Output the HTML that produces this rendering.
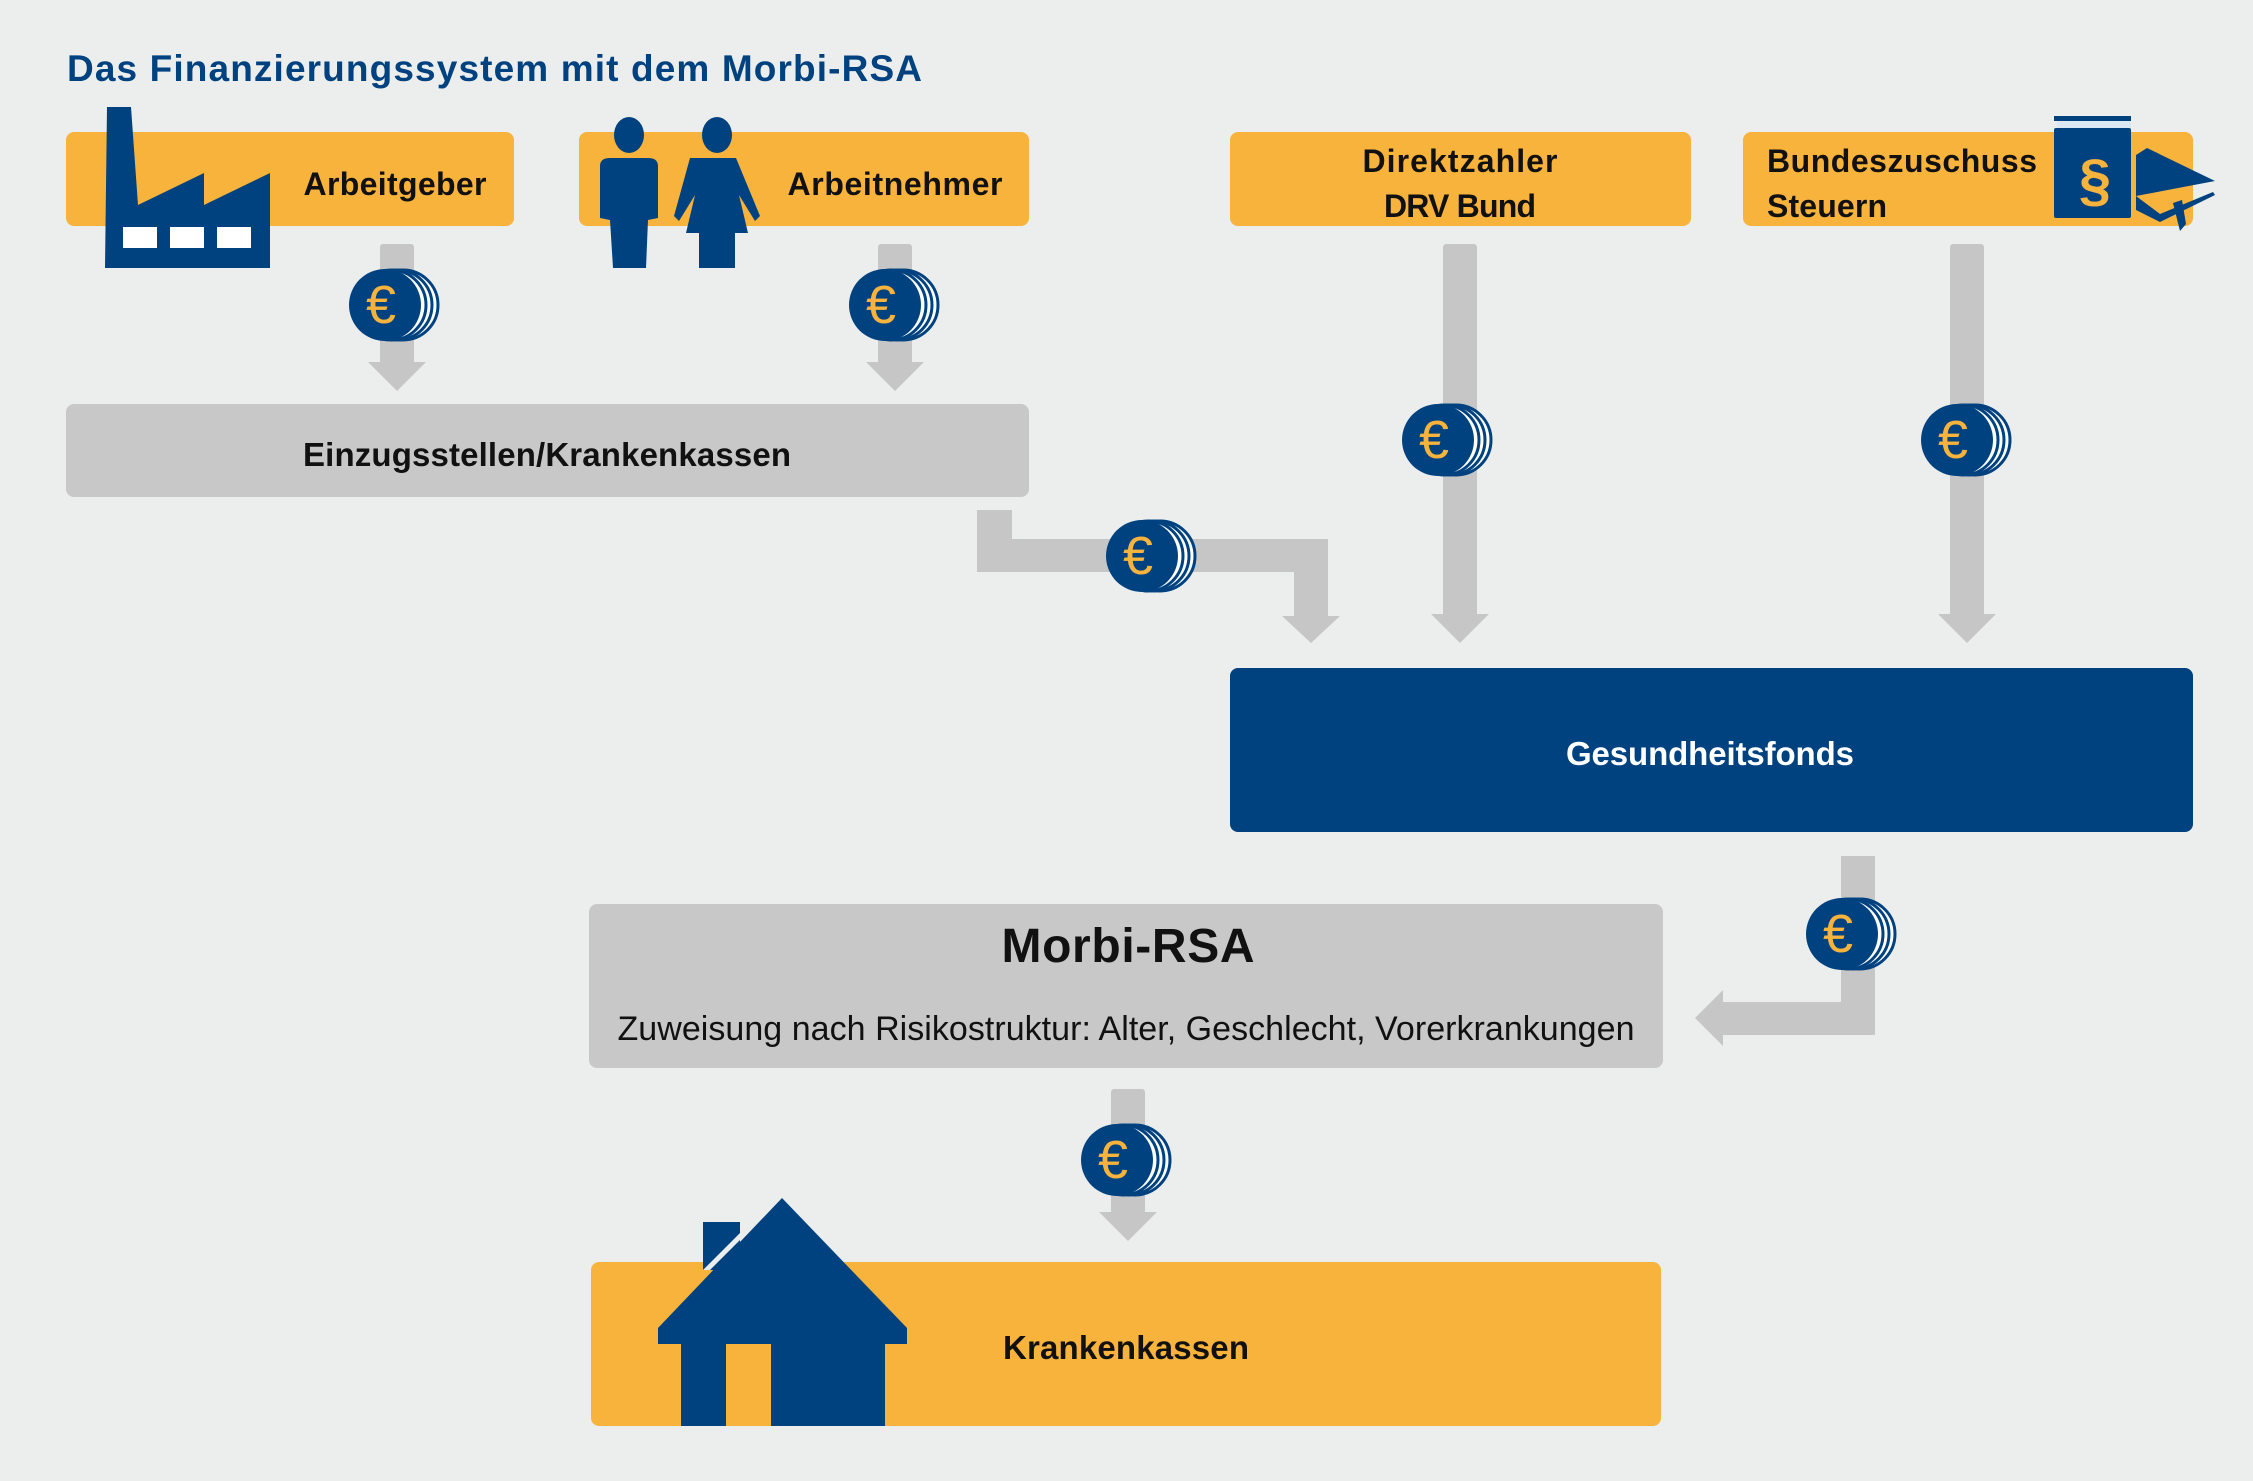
<!DOCTYPE html>
<html><head><meta charset="utf-8"><style>
html,body{margin:0;padding:0;background:#eceeed;}
svg{display:block;}
text{font-family:"Liberation Sans",sans-serif;}
</style></head><body>
<svg width="2253" height="1481" viewBox="0 0 2253 1481" xmlns="http://www.w3.org/2000/svg">
<defs>
<g id="coin">
<circle cx="18" cy="0" r="35" fill="#fff" stroke="#00427f" stroke-width="3"/>
<circle cx="12" cy="0" r="35" fill="#fff" stroke="#00427f" stroke-width="3"/>
<circle cx="6" cy="0" r="35" fill="#fff" stroke="#00427f" stroke-width="3"/>
<circle cx="0" cy="0" r="36" fill="#00427f"/>
<text x="-4" y="18" font-size="54" fill="#f8b33c" text-anchor="middle">€</text>
</g>
</defs>
<rect width="2253" height="1481" fill="#eceeed"/>
<text x="67" y="81" font-size="37" font-weight="bold" fill="#00427f" textLength="855">Das Finanzierungssystem mit dem Morbi-RSA</text>

<!-- top boxes -->
<rect x="66" y="132" width="448" height="94" rx="8" fill="#f8b33c"/>
<rect x="579" y="132" width="450" height="94" rx="8" fill="#f8b33c"/>
<rect x="1230" y="132" width="461" height="94" rx="8" fill="#f8b33c"/>
<rect x="1743" y="132" width="450" height="94" rx="8" fill="#f8b33c"/>
<text x="395" y="195" font-size="32" font-weight="bold" fill="#111" text-anchor="middle" textLength="183">Arbeitgeber</text>
<text x="895" y="195" font-size="32" font-weight="bold" fill="#111" text-anchor="middle" textLength="215">Arbeitnehmer</text>
<text x="1460" y="172" font-size="32" font-weight="bold" fill="#111" text-anchor="middle" textLength="195">Direktzahler</text>
<text x="1460" y="217" font-size="32" font-weight="bold" fill="#111" text-anchor="middle" textLength="152">DRV Bund</text>
<text x="1767" y="172" font-size="32" font-weight="bold" fill="#111" textLength="270">Bundeszuschuss</text>
<text x="1767" y="217" font-size="32" font-weight="bold" fill="#111" textLength="120">Steuern</text>

<!-- factory -->
<path d="M105,268 L107,107 L131,107 L138,205 L204,173 L204,205 L270,173 L270,268 Z" fill="#00427f"/>
<rect x="123" y="227" width="34" height="21" fill="#fff"/>
<rect x="170" y="227" width="34" height="21" fill="#fff"/>
<rect x="217" y="227" width="34" height="21" fill="#fff"/>
<!-- man -->
<ellipse cx="629" cy="135" rx="15" ry="18" fill="#00427f"/>
<path d="M600,166 Q600,158 610,158 L648,158 Q658,158 658,166 L658,218 L648,220 L646,268 L613,268 L610,220 L600,218 Z" fill="#00427f"/>
<!-- woman -->
<ellipse cx="717" cy="135" rx="15" ry="18" fill="#00427f"/>
<path d="M690,158 L736,158 L760,216 L755,221 L739,195 L748,233 L735,233 L735,268 L699,268 L699,233 L686,233 L695,195 L679,221 L674,216 Z" fill="#00427f"/>
<!-- book -->
<rect x="2054" y="116" width="77" height="5" fill="#00427f"/>
<rect x="2057" y="121" width="74" height="8" fill="#dbe9f5"/>
<rect x="2054" y="128" width="77" height="90" rx="2" fill="#00427f"/>
<text x="2095" y="200" font-size="58" font-weight="bold" fill="#f8b33c" text-anchor="middle">§</text>
<path d="M2136,155 L2147,148 L2215,181 L2136,196 Z" fill="#00427f"/>
<path d="M2136,196 L2136,210 L2160,222 L2215,195 L2213,192 L2160,214 Z" fill="#00427f"/>
<path d="M2173,203 L2180,231 L2186,224 L2182,200 Z" fill="#00427f"/>

<!-- arrows (gray) -->
<g fill="#c6c6c6">
<rect x="380" y="244" width="34" height="120" rx="3"/><path d="M368,362 L426,362 L397,391 Z"/>
<rect x="878" y="244" width="34" height="120" rx="3"/><path d="M866,362 L924,362 L895,391 Z"/>
<rect x="1443" y="244" width="34" height="372" rx="3"/><path d="M1431,614 L1489,614 L1460,643 Z"/>
<rect x="1950" y="244" width="34" height="372" rx="3"/><path d="M1938,614 L1996,614 L1967,643 Z"/>
<path d="M977,510 L1012,510 L1012,539 L1328,539 L1328,616 L1340,616 L1311,643 L1282,616 L1294,616 L1294,572 L977,572 Z"/>
<path d="M1841,856 L1875,856 L1875,1035 L1723,1035 L1723,1046 L1695,1018 L1723,990 L1723,1002 L1841,1002 Z"/>
<rect x="1111" y="1089" width="34" height="125" rx="3"/><path d="M1099,1212 L1157,1212 L1128,1241 Z"/>
</g>

<!-- middle boxes -->
<rect x="66" y="404" width="963" height="93" rx="8" fill="#c8c8c8"/>
<text x="547" y="466" font-size="33" font-weight="bold" fill="#111" text-anchor="middle" textLength="488">Einzugsstellen/Krankenkassen</text>
<rect x="1230" y="668" width="963" height="164" rx="8" fill="#00427f"/>
<text x="1710" y="765" font-size="33" font-weight="bold" fill="#fff" text-anchor="middle" textLength="288">Gesundheitsfonds</text>
<rect x="589" y="904" width="1074" height="164" rx="8" fill="#c8c8c8"/>
<text x="1128" y="962" font-size="48" font-weight="bold" fill="#111" text-anchor="middle" textLength="253">Morbi-RSA</text>
<text x="1126" y="1040" font-size="34" fill="#111" text-anchor="middle" textLength="1017">Zuweisung nach Risikostruktur: Alter, Geschlecht, Vorerkrankungen</text>
<rect x="591" y="1262" width="1070" height="164" rx="8" fill="#f8b33c"/>
<text x="1126" y="1359" font-size="33" font-weight="bold" fill="#111" text-anchor="middle" textLength="246">Krankenkassen</text>
<!-- house -->
<rect x="703" y="1222" width="37" height="48" fill="#00427f"/>
<path d="M703,1270 L740,1233 L740,1240 L710,1270 Z" fill="#eceeed"/>
<path d="M782,1198 L907,1328 L907,1344 L885,1344 L885,1426 L771,1426 L771,1344 L726,1344 L726,1426 L681,1426 L681,1344 L658,1344 L658,1328 Z" fill="#00427f"/>

<!-- coins -->
<use href="#coin" x="385" y="305"/>
<use href="#coin" x="885" y="305"/>
<use href="#coin" x="1438" y="440"/>
<use href="#coin" x="1957" y="440"/>
<use href="#coin" x="1142" y="556"/>
<use href="#coin" x="1842" y="934"/>
<use href="#coin" x="1117" y="1160"/>
</svg>
</body></html>
